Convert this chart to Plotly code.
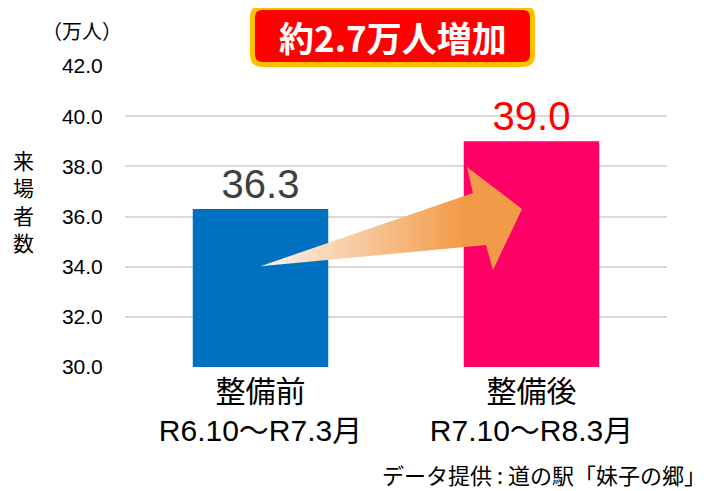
import plotly.graph_objects as go

# ---- data ----
categories = ["整備前<br>R6.10～R7.3月", "整備後<br>R7.10～R8.3月"]
values = [36.3, 39.0]
value_labels = ["36.3", "39.0"]
bar_colors = ["#0070C0", "#FF0066"]
label_colors = ["#404040", "#FF0000"]
y_ticks = [30, 32, 34, 36, 38, 40, 42]
y_ticktext = ["30.0", "32.0", "34.0", "36.0", "38.0", "40.0", "42.0"]
y_title_chars = ["来", "場", "者", "数"]
unit_label = "（万人）"
headline = "約2.7万人増加"
source_text = "データ提供 : 道の駅「妹子の郷」"

# decorative arrow outline (category units, data units)
arrow_x = [0.0, 0.784, 0.762, 0.965, 0.858, 0.832, 0.0]
arrow_y = [34.02, 36.94, 37.97, 36.30, 33.87, 34.86, 34.02]

OFF = 8  # page body margin
W, H = 713 - OFF, 491 - OFF
# plot area in window pixels: x 125..667, y 66..367
L, T = 125 - OFF, 66 - OFF
R = W - (667 - OFF)
B = H - (367 - OFF)
PW, PH = W - L - R, H - T - B

def px2paper(px, py):
    # px, py in window pixels
    return (px - OFF - L) / PW, (H - B - (py - OFF)) / PH

FONT = "Liberation Sans, Arial, Noto Sans CJK JP, sans-serif"
CJK = "Noto Sans CJK JP, sans-serif"

xpos = list(range(len(categories)))

fig = go.Figure()
fig.add_trace(go.Bar(
    x=xpos, y=values, width=0.5,
    marker=dict(color=bar_colors, line=dict(width=0)),
    text=value_labels, textposition="outside",
    textfont=dict(size=40, color=label_colors, family=FONT),
    cliponaxis=False, hoverinfo="skip", showlegend=False,
))
fig.add_trace(go.Scatter(
    x=arrow_x, y=arrow_y, mode="lines", line=dict(width=0),
    fill="toself",
    fillgradient=dict(type="horizontal",
                      colorscale=[[0, "#FBF4EE"], [0.78, "#F39A48"], [1, "#F39A48"]]),
    hoverinfo="skip", showlegend=False,
))

# rounded headline box (paper coords from pixel geometry)
bx0, bx1, by0, by1, r = 252.5, 532.5, 7.5, 64.5, 10
def P(px, py):
    x, y = px2paper(px, py)
    return f"{x:.5f},{y:.5f}"
path = (f"M {P(bx0 + r, by0)} L {P(bx1 - r, by0)} Q {P(bx1, by0)} {P(bx1, by0 + r)} "
        f"L {P(bx1, by1 - r)} Q {P(bx1, by1)} {P(bx1 - r, by1)} "
        f"L {P(bx0 + r, by1)} Q {P(bx0, by1)} {P(bx0, by1 - r)} "
        f"L {P(bx0, by0 + r)} Q {P(bx0, by0)} {P(bx0 + r, by0)} Z")
fig.add_shape(type="path", path=path, xref="paper", yref="paper",
              fillcolor="#FF0000", line=dict(color="#FFC000", width=5), layer="above")

annotations = []
hx, hy = px2paper(392.5, 37)
annotations.append(dict(x=hx, y=hy, xref="paper", yref="paper", text=f"<b>{headline}</b>",
                        showarrow=False, font=dict(size=35, color="white", family=CJK),
                        xanchor="center", yanchor="middle"))
ax, ay = px2paper(23.5, 201)
annotations.append(dict(x=ax, y=ay, xref="paper", yref="paper", text="<br>".join(y_title_chars),
                        showarrow=False, font=dict(size=21, color="black", family=CJK),
                        xanchor="center", yanchor="middle"))
ux, uy = px2paper(82, 30)
annotations.append(dict(x=ux, y=uy, xref="paper", yref="paper", text=unit_label, showarrow=False,
                        font=dict(size=20, color="black", family=CJK),
                        xanchor="center", yanchor="middle"))
sx, sy = px2paper(707, 474)
annotations.append(dict(x=sx, y=sy, xref="paper", yref="paper", text=source_text, showarrow=False,
                        font=dict(size=22, color="black", family=CJK),
                        xanchor="right", yanchor="middle", borderpad=0))

fig.update_layout(
    width=W, height=H,
    margin=dict(l=L, r=R, t=T, b=B, autoexpand=False),
    paper_bgcolor="white", plot_bgcolor="white",
    annotations=annotations,
    xaxis=dict(range=[-0.5, 1.5], tickvals=xpos, ticktext=categories,
               showgrid=False, zeroline=False, showline=False,
               ticks="", ticklabelstandoff=4,
               tickfont=dict(size=30, color="black", family=FONT)),
    yaxis=dict(range=[30, 42], tickvals=y_ticks, ticktext=y_ticktext,
               showgrid=True, gridcolor="#D9D9D9", gridwidth=2,
               zeroline=False, showline=False,
               ticks="outside", ticklen=17, tickcolor="rgba(0,0,0,0)",
               tickfont=dict(size=21, color="black", family=FONT)),
    bargap=0.5,
)

fig.write_html("out.html")
